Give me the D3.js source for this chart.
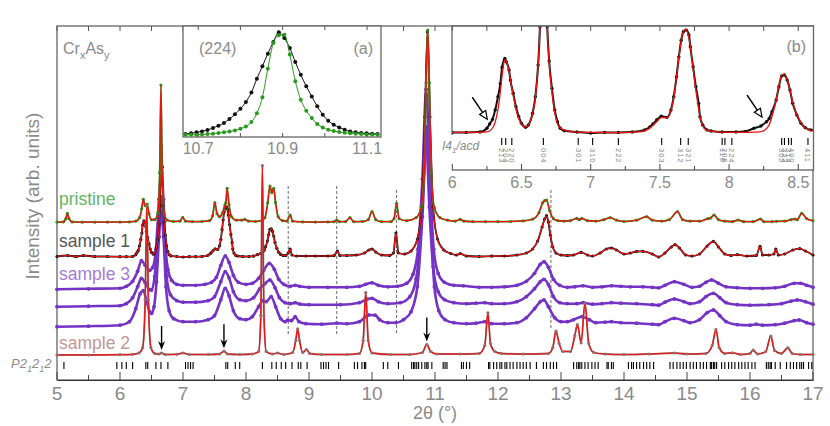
<!DOCTYPE html>
<html>
<head>
<meta charset="utf-8">
<script src="https://cdn.jsdelivr.net/npm/d3@7"></script>
<style>
  body { margin: 0; background: #fff; }
  svg { display: block; font-family: "Liberation Sans", Arial, sans-serif; }
  .lbl { fill: #8a8a8a; }
</style>
</head>
<body>
<svg width="830" height="426"></svg>
<script>
// ---- data (2theta in degrees, intensity in arb. units above each baseline) ----
var pristine = [[5.00,0.5],[5.10,0.8],[5.14,4],[5.165,9.4],[5.19,4],[5.24,0.8],[5.4,0.5],[5.6,0.5],[5.8,0.6],[6.0,0.6],[6.15,0.8],[6.25,1.5],[6.31,5],[6.345,14],[6.37,23.4],[6.40,17],[6.43,18.7],[6.46,9],[6.50,3],[6.55,3],[6.60,10],[6.63,50],[6.65,137.7],[6.67,50],[6.70,10],[6.75,2.5],[6.85,1.2],[6.95,1.5],[6.995,5.3],[7.04,1.5],[7.15,1],[7.3,1.2],[7.42,2],[7.47,7],[7.505,20],[7.54,9],[7.58,6],[7.63,10],[7.665,17.7],[7.68,20],[7.70,34.4],[7.73,18],[7.77,6],[7.85,2.5],[7.93,2.5],[7.98,3.4],[8.04,1.5],[8.15,1.2],[8.25,2],[8.30,5],[8.345,20],[8.38,36.7],[8.41,30],[8.44,34.4],[8.47,20],[8.51,6],[8.58,2],[8.65,1.5],[8.70,7.7],[8.74,1.5],[8.9,0.8],[9.1,0.6],[9.3,0.8],[9.40,1],[9.44,2.7],[9.48,1],[9.58,1],[9.65,5],[9.71,1],[9.85,1.2],[9.94,3],[10.0,11],[10.06,3],[10.15,1],[10.3,1],[10.35,4],[10.39,19.4],[10.43,4],[10.55,2],[10.70,5],[10.78,15],[10.83,50],[10.86,140],[10.885,192.7],[10.91,140],[10.94,50],[10.99,15],[11.08,5],[11.2,2.5],[11.32,1.5],[11.40,3.4],[11.46,1.5],[11.6,1],[11.8,1],[12.0,1],[12.2,1.2],[12.4,1.8],[12.55,3.5],[12.65,10],[12.71,20],[12.74,22],[12.77,22.7],[12.82,12],[12.88,4],[12.95,2],[13.05,1.5],[13.15,2],[13.25,4.4],[13.29,3],[13.33,4.4],[13.42,2],[13.55,1.5],[13.68,3],[13.78,5],[13.88,2.5],[14.0,1.2],[14.2,2.5],[14.36,6],[14.45,2.5],[14.6,1.5],[14.72,3],[14.85,11],[14.93,3],[15.05,1.5],[15.2,1.5],[15.33,4],[15.37,4.5],[15.43,7.7],[15.5,3],[15.6,1.5],[15.72,1],[15.81,2.7],[15.9,1],[16.05,1],[16.17,3.7],[16.22,1],[16.35,1],[16.42,1.4],[16.55,1.5],[16.65,3],[16.71,3.7],[16.75,3],[16.82,9.4],[16.9,4],[17.0,2]];

var sample1 = [[5.0,0.5],[5.17,1.5],[5.3,0.5],[5.42,1.5],[5.6,0.5],[5.8,0.5],[6.0,0.3],[6.1,0.3],[6.2,0.5],[6.25,2.3],[6.27,4.4],[6.29,6.6],[6.31,11.2],[6.33,17.6],[6.347,24],[6.36,32],[6.38,36.2],[6.39,34.6],[6.41,30.6],[6.42,25.7],[6.44,19.3],[6.46,12.8],[6.48,8],[6.50,4.7],[6.53,2.8],[6.55,3.9],[6.58,9.6],[6.60,17.6],[6.62,33],[6.633,51.6],[6.645,90],[6.658,112],[6.672,90],[6.686,51.6],[6.70,35],[6.72,21.7],[6.74,11.2],[6.76,5.5],[6.78,2.3],[6.81,1.1],[6.9,0.5],[7.0,0],[7.1,0.3],[7.2,0.3],[7.3,0.5],[7.39,1.5],[7.43,3.1],[7.45,4.4],[7.477,6.3],[7.51,8.2],[7.55,7.6],[7.58,11.2],[7.60,17.6],[7.62,27.3],[7.637,37],[7.654,45.1],[7.67,49.2],[7.69,50],[7.71,47.6],[7.72,41.9],[7.74,32.2],[7.76,22.5],[7.78,14.4],[7.79,7.9],[7.81,3.9],[7.84,1.5],[7.87,1],[7.95,0.5],[8.05,0.5],[8.12,0.8],[8.18,2.3],[8.23,3.4],[8.27,5.5],[8.29,7.1],[8.31,10.3],[8.34,16],[8.36,22.5],[8.38,27.7],[8.40,28.2],[8.42,25.7],[8.44,20.9],[8.46,14.4],[8.49,8.7],[8.52,4.7],[8.55,2.6],[8.59,1.5],[8.63,1.5],[8.67,4],[8.70,8],[8.73,2],[8.8,1],[8.95,1],[9.1,1],[9.3,1],[9.40,1.5],[9.45,6],[9.49,1.5],[9.6,1.5],[9.75,2],[9.88,4],[9.95,7],[10.0,8],[10.06,5],[10.15,2],[10.28,1.5],[10.34,4],[10.38,24],[10.42,4],[10.52,3],[10.62,6],[10.72,18],[10.79,50],[10.84,140],[10.88,225],[10.92,140],[10.97,50],[11.04,18],[11.14,7],[11.25,3.5],[11.34,2],[11.40,3.3],[11.5,1],[11.7,0.5],[11.9,0.8],[12.1,1],[12.3,2],[12.45,4],[12.55,8],[12.63,16],[12.70,30],[12.74,38],[12.77,41.3],[12.80,35],[12.83,22],[12.87,10],[12.92,4],[13.0,2],[13.1,1.5],[13.2,2],[13.32,4.6],[13.42,2],[13.5,1],[13.62,4],[13.72,8],[13.8,9],[13.88,7],[14.0,3],[14.1,4],[14.2,5.5],[14.3,5.7],[14.45,3],[14.55,0],[14.65,4],[14.75,10],[14.81,12.3],[14.88,9],[14.98,2],[15.08,1],[15.2,3],[15.32,11],[15.42,15.6],[15.5,10],[15.6,3],[15.7,1.5],[15.8,2.3],[15.95,1],[16.1,1.5],[16.16,10.6],[16.2,2],[16.3,2],[16.38,3],[16.41,8],[16.45,2],[16.55,3],[16.68,7],[16.79,8.3],[16.88,6],[17.0,2]];

// refined fit of sample 1 shown in inset (b)
var sample1Calc = [[6.0,0.3],[6.1,0.3],[6.2,0.3],[6.25,0.5],[6.28,1.5],[6.30,3.5],[6.32,8],[6.34,16],[6.355,25],[6.37,33],[6.38,35.5],[6.395,34],[6.41,30],[6.43,22],[6.45,15],[6.47,9],[6.49,5.5],[6.52,3],[6.54,3.2],[6.57,7],[6.60,17],[6.62,33],[6.633,52],[6.645,90],[6.658,112],[6.672,90],[6.686,52],[6.70,34],[6.72,20],[6.74,10],[6.76,4.5],[6.79,2],[6.85,0.8],[7.0,0.3],[7.2,0.2],[7.35,0.5],[7.42,2],[7.47,5],[7.51,7.5],[7.55,7.5],[7.58,11],[7.60,17],[7.62,27],[7.64,38],[7.66,47],[7.685,50.5],[7.71,46],[7.73,37],[7.75,26],[7.77,16],[7.79,8],[7.81,3.5],[7.85,1],[8.0,0.3],[8.15,0.3],[8.22,0.5],[8.26,1.5],[8.29,4],[8.31,8],[8.34,16],[8.36,23],[8.38,28],[8.40,28.6],[8.42,26],[8.44,21],[8.46,15],[8.49,9],[8.52,5],[8.55,2.5],[8.59,1.2],[8.62,1]];

var sample3a = [[5.0,0],[5.5,0.5],[6.0,1],[6.1,3],[6.2,8],[6.28,18],[6.34,28.6],[6.40,24],[6.47,19],[6.52,22],[6.57,40],[6.62,90],[6.655,116],[6.69,90],[6.72,45],[6.76,20],[6.82,9],[6.9,5],[7.0,4],[7.2,4],[7.35,5],[7.45,7],[7.53,12],[7.6,24],[7.67,33.3],[7.73,27],[7.80,14],[7.88,7],[8.0,5],[8.1,6],[8.2,11],[8.28,19],[8.37,26],[8.45,20],[8.52,10],[8.6,5],[8.7,3],[8.78,4],[8.85,3],[9.0,2],[9.3,2],[9.6,2],[9.8,3],[9.9,5],[10.0,6.5],[10.1,4],[10.25,2.5],[10.4,3],[10.55,6],[10.65,15],[10.73,40],[10.8,110],[10.86,200],[10.92,110],[10.98,40],[11.05,16],[11.15,7],[11.3,4],[11.45,3.5],[11.7,2],[11.9,2],[12.1,2.5],[12.3,4],[12.45,8],[12.58,16],[12.67,25],[12.73,27.6],[12.8,22],[12.88,10],[12.98,4],[13.1,2],[13.22,2.5],[13.35,3.5],[13.5,2],[13.65,2.5],[13.8,3.5],[13.95,3],[14.1,2.5],[14.3,2.5],[14.45,2],[14.55,1.5],[14.65,4],[14.8,7.6],[14.95,5],[15.08,2],[15.2,3],[15.3,7],[15.39,9.3],[15.5,6],[15.62,2.5],[15.8,1.5],[16.0,1],[16.2,1],[16.4,1.5],[16.55,3],[16.7,6],[16.8,6],[16.9,4],[17.0,2]];

var sample3b = [[5.0,0],[5.5,0.5],[6.0,1],[6.1,3],[6.2,9],[6.28,20],[6.34,28.4],[6.40,24],[6.47,17],[6.5,16.7],[6.55,30],[6.6,70],[6.655,110],[6.7,70],[6.74,30],[6.8,12],[6.9,6],[7.0,4.5],[7.2,4.5],[7.4,6],[7.5,10],[7.6,25],[7.67,35],[7.73,29],[7.8,15],[7.9,7],[8.0,6],[8.12,9],[8.22,18],[8.3,23],[8.38,26.7],[8.46,19],[8.53,9],[8.62,4],[8.7,3],[8.78,4],[8.86,2.5],[9.0,2],[9.5,2],[9.8,4],[9.92,7.5],[10.0,8.4],[10.1,5],[10.25,3],[10.45,4],[10.6,10],[10.7,28],[10.78,80],[10.85,180],[10.91,100],[10.97,40],[11.05,15],[11.15,7],[11.3,4],[11.5,3],[11.65,3.5],[11.79,4],[11.9,3],[12.1,3],[12.3,5],[12.45,10],[12.58,18],[12.67,25],[12.73,27.4],[12.8,22],[12.88,10],[12.98,4],[13.1,3],[13.25,3],[13.35,4],[13.5,2.5],[13.65,3],[13.8,4],[13.95,3.5],[14.2,3],[14.45,2],[14.55,1.5],[14.65,4.5],[14.8,7.7],[14.95,5],[15.05,3],[15.2,5],[15.3,10],[15.42,13.4],[15.52,9],[15.62,4],[15.8,2],[16.0,1.5],[16.3,2],[16.5,3],[16.65,5.5],[16.75,6.7],[16.88,5],[17.0,2.5]];

var sample3c = [[5.0,0],[5.5,0.5],[6.0,1.5],[6.15,5],[6.25,18],[6.32,33],[6.37,36],[6.42,26],[6.47,15],[6.5,13.4],[6.54,20],[6.58,45],[6.62,90],[6.655,115],[6.69,90],[6.73,40],[6.78,16],[6.85,8],[7.0,5],[7.2,5],[7.4,7],[7.5,11],[7.6,27],[7.67,38.4],[7.73,31],[7.8,16],[7.9,8],[8.0,7],[8.1,10],[8.2,20],[8.27,26],[8.32,25],[8.40,30],[8.47,20],[8.55,8],[8.62,5],[8.66,6.5],[8.72,6],[8.78,10],[8.84,5],[8.95,3],[9.2,2.5],[9.44,3.5],[9.6,3],[9.8,5],[9.9,10],[9.95,11.7],[10.05,11.5],[10.12,7],[10.25,4],[10.38,4],[10.5,7],[10.62,15],[10.72,40],[10.8,110],[10.87,190],[10.93,110],[10.99,40],[11.06,16],[11.16,7],[11.3,4],[11.5,3],[11.65,3.5],[11.79,5],[11.9,3],[12.1,3],[12.3,4],[12.45,9],[12.58,18],[12.67,25],[12.73,26.7],[12.8,20],[12.9,9],[13.0,5],[13.1,5],[13.2,7],[13.33,10],[13.45,7],[13.55,4],[13.7,4.5],[13.8,5],[13.95,4],[14.2,3.5],[14.45,2.5],[14.55,2],[14.65,5],[14.8,8.4],[14.95,6],[15.05,4],[15.2,7],[15.32,14],[15.42,16.7],[15.52,11],[15.62,5],[15.8,2],[16.0,1.5],[16.1,2.5],[16.2,1.5],[16.4,2],[16.55,3.5],[16.7,6],[16.78,6.7],[16.9,4],[17.0,2.5]];

var sample2 = [[5.0,0.5],[5.5,0.5],[6.0,0.8],[6.2,1.2],[6.3,2.5],[6.36,8],[6.40,56],[6.425,150],[6.45,56],[6.49,8],[6.55,2],[6.62,1.5],[6.66,2.5],[6.72,1],[6.9,1.2],[7.0,2.5],[7.1,1],[7.4,1],[7.58,1.5],[7.65,4.3],[7.71,1.5],[7.9,1],[8.1,1.5],[8.2,4],[8.235,40],[8.26,190],[8.285,40],[8.32,4],[8.42,1.5],[8.5,2.5],[8.6,1],[8.74,3],[8.79,15],[8.82,26.7],[8.85,15],[8.9,3],[8.96,6],[9.01,2],[9.2,1],[9.6,1],[9.8,2],[9.86,15],[9.90,63],[9.94,15],[10.0,2.5],[10.3,1],[10.6,1],[10.8,3],[10.87,11],[10.93,4],[11.03,1.5],[11.4,1.5],[11.7,2],[11.79,10],[11.84,42.7],[11.88,12],[11.95,4],[12.05,2],[12.4,1.5],[12.8,2],[12.87,8],[12.92,24.3],[12.97,12],[13.03,4],[13.15,4],[13.22,20],[13.26,31],[13.32,12.7],[13.38,52.7],[13.44,12],[13.52,3],[13.7,1.5],[14.0,1],[14.4,1.5],[14.8,2.5],[15.0,1.5],[15.3,2],[15.4,10],[15.46,26],[15.51,8],[15.6,2],[15.72,2.7],[15.85,1],[16.0,2],[16.05,5.3],[16.12,1.5],[16.25,4],[16.33,19.3],[16.39,5],[16.5,2],[16.6,7.7],[16.67,2],[16.8,1],[17.0,1]];

var seriesLabels = ['pristine', 'sample 1', 'sample 3', '', '', 'sample 2'];
var seriesOffsets = [157.3, 123, 90.7, 73.3, 53.3, 24.5];

// P2(1)2(1)2 reflection positions (2theta)
var mainRefl = [5.11,5.95,6.03,6.10,6.20,6.41,6.44,6.57,6.65,6.76,7.04,7.08,7.12,7.16,7.68,7.71,7.83,7.90,8.26,8.41,8.48,8.56,8.63,8.73,8.83,8.87,8.97,9.19,9.23,9.27,9.31,9.47,9.72,9.77,9.84,9.88,9.90,10.18,10.25,10.42,10.63,10.66,10.68,10.71,10.74,10.79,10.84,10.87,10.89,10.95,11.13,11.16,11.19,11.42,11.45,11.50,11.55,11.85,11.87,11.93,11.98,12.03,12.06,12.11,12.14,12.19,12.24,12.30,12.35,12.40,12.45,12.51,12.61,12.72,12.77,12.83,12.88,12.93,13.20,13.25,13.28,13.30,13.33,13.38,13.43,13.49,13.54,13.59,13.73,13.75,13.80,13.83,14.07,14.12,14.15,14.20,14.25,14.31,14.36,14.41,14.47,14.73,14.78,14.84,14.89,14.94,14.99,15.05,15.10,15.15,15.21,15.26,15.31,15.37,15.39,15.42,15.44,15.47,15.55,15.60,15.66,15.71,15.76,15.82,15.87,15.92,15.97,16.03,16.08,16.26,16.29,16.32,16.34,16.40,16.48,16.58,16.64,16.69,16.74,16.79,16.82,16.85,16.93,16.98];

var guideX = [8.67, 9.44, 10.39, 12.84];
var guideTop = [194, 194, 190, 190];
var guideBottom = [45, 45, 45, 50];
var arrowX = [6.66, 7.65, 10.87];

// inset (a): (224) reflection, normalised
var insetAX = [10.670,10.683,10.696,10.709,10.722,10.735,10.748,10.761,10.774,10.787,10.800,10.813,10.826,10.839,10.852,10.865,10.878,10.891,10.904,10.917,10.930,10.943,10.956,10.969,10.982,10.995,11.008,11.021,11.034,11.047,11.060,11.073,11.086,11.099,11.112,11.125];
var insetASample1 = [0.006,0.013,0.023,0.032,0.045,0.065,0.088,0.114,0.153,0.198,0.253,0.318,0.412,0.545,0.666,0.789,0.903,0.997,0.942,0.844,0.708,0.584,0.471,0.373,0.276,0.195,0.136,0.097,0.071,0.049,0.032,0.023,0.016,0.013,0.010,0.006];
var insetAPristine = [0,0,0,0.003,0.006,0.010,0.016,0.023,0.032,0.042,0.058,0.081,0.123,0.208,0.364,0.643,0.893,0.968,0.974,0.78,0.52,0.34,0.234,0.162,0.104,0.071,0.049,0.036,0.026,0.019,0.013,0.010,0.006,0.003,0.003,0];

// inset (b): I4(1)/acd reflections
var insetRefl = [6.357,6.386,6.43,6.658,6.91,7.014,7.2,7.513,7.65,7.705,7.95,7.97,8.02,8.38,8.40,8.43,8.45,8.57];
var insetHkl = ['213','204','220','004','301','310','222','303','312','321','116','206','224','305','323','314','400','411'];
var insetArrowX = [6.26, 8.245];

var svg = d3.select('svg');

var x = d3.scaleLinear().domain([5, 17]).range([57, 813]);
var y = d3.scaleLinear().domain([0, 354]).range([380, 26]);

var colors = ['#2a9a1e', '#111111', '#7433c4', '#7433c4', '#7433c4', '#9a6868'];
var labelColors = ['#62b562', '#555555', '#a57ad8', '', '', '#bf9797'];
var allSeries = [pristine, sample1, sample3a, sample3b, sample3c, sample2];

// frame
var frame = svg.append('g');
frame.append('rect')
    .attr('x', x(5)).attr('y', y(354))
    .attr('width', x(17) - x(5)).attr('height', y(0) - y(354))
    .attr('fill', 'none').attr('stroke', '#666').attr('stroke-width', 1.3);

// bottom axis, ticks inward
var xAxis = d3.axisBottom(x).tickValues(d3.range(5, 17.01, 0.5)).tickSize(0).tickFormat('');
frame.append('g').attr('transform', 'translate(0,380)').call(xAxis).select('.domain').attr('stroke', '#333');
frame.selectAll('.tickB')
    .data(d3.range(5, 17.01, 0.5))
    .enter().append('line')
    .attr('x1', function(d){ return x(d); }).attr('x2', function(d){ return x(d); })
    .attr('y1', 380).attr('y2', function(d){ return d % 1 === 0 ? 372 : 375; })
    .attr('stroke', '#444').attr('stroke-width', 1);
frame.selectAll('.tickT')
    .data(d3.range(5, 17.01, 0.5))
    .enter().append('line')
    .attr('x1', function(d){ return x(d); }).attr('x2', function(d){ return x(d); })
    .attr('y1', 26).attr('y2', 31)
    .attr('stroke', '#555').attr('stroke-width', 1);
frame.selectAll('.tickLabel')
    .data(d3.range(5, 18))
    .enter().append('text')
    .attr('class', 'lbl')
    .attr('x', function(d){ return x(d); }).attr('y', 400)
    .attr('text-anchor', 'middle').attr('font-size', 19)
    .text(function(d){ return d; });

svg.append('text').attr('class', 'lbl')
    .attr('x', (x(5) + x(17)) / 2).attr('y', 419)
    .attr('text-anchor', 'middle').attr('font-size', 18)
    .text('2\u03b8 (\u00b0)');

svg.append('text').attr('class', 'lbl')
    .attr('transform', 'translate(39,196) rotate(-90)')
    .attr('text-anchor', 'middle').attr('font-size', 19)
    .text('Intensity (arb. units)');

var crAs = svg.append('text').attr('class', 'lbl').attr('x', 63).attr('y', 54).attr('font-size', 16);
crAs.append('tspan').text('Cr');
crAs.append('tspan').attr('dy', 5).attr('font-size', 11).text('x');
crAs.append('tspan').attr('dy', -5).text('As');
crAs.append('tspan').attr('dy', 5).attr('font-size', 11).text('y');

// reflection markers
svg.append('g').selectAll('line')
    .data(mainRefl)
    .enter().append('line')
    .attr('x1', function(d){ return x(d); }).attr('x2', function(d){ return x(d); })
    .attr('y1', 362).attr('y2', 369)
    .attr('stroke', '#000').attr('stroke-width', 1.1);

var pLbl = svg.append('text').attr('class', 'lbl').attr('x', 11).attr('y', 368)
    .attr('font-size', 13).attr('font-style', 'italic');
pLbl.append('tspan').text('P2');
pLbl.append('tspan').attr('dy', 4).attr('font-size', 9).text('1');
pLbl.append('tspan').attr('dy', -4).text('2');
pLbl.append('tspan').attr('dy', 4).attr('font-size', 9).text('1');
pLbl.append('tspan').attr('dy', -4).text('2');

// dashed guides
svg.append('g').selectAll('line')
    .data(guideX)
    .enter().append('line')
    .attr('x1', function(d){ return x(d); }).attr('x2', function(d){ return x(d); })
    .attr('y1', function(d, i){ return y(guideTop[i]); })
    .attr('y2', function(d, i){ return y(guideBottom[i]); })
    .attr('stroke', '#444').attr('stroke-width', 0.8).attr('stroke-dasharray', '3,2');

function drawPattern(g, data, off, color, lw, r, withCalc, dotsOnTop) {
    var line = d3.line()
        .x(function(d){ return x(d[0]); })
        .y(function(d){ return y(d[1] + off); })
        .curve(d3.curveMonotoneX);
    g.append('path').datum(data)
        .attr('d', line).attr('fill', 'none')
        .attr('stroke', color).attr('stroke-width', lw).attr('stroke-linejoin', 'round');
    var dots = function() {
        g.append('g').selectAll('circle')
            .data(data)
            .enter().append('circle')
            .attr('cx', function(d){ return x(d[0]); })
            .attr('cy', function(d){ return y(d[1] + off); })
            .attr('r', r).attr('fill', color);
    };
    if (!dotsOnTop) dots();
    if (withCalc) {
        g.append('path').datum(data)
            .attr('d', line).attr('fill', 'none')
            .attr('stroke', '#ee1111').attr('stroke-width', 1.2);
    }
    if (dotsOnTop) dots();
}

var plotG = svg.append('g');
var order = [2, 3, 4, 1, 0, 5];
order.forEach(function(i){
    var purple = i >= 2 && i <= 4;
    drawPattern(plotG, allSeries[i], seriesOffsets[i], colors[i],
        purple ? 2.6 : 1.8, purple ? 1.9 : 1.6, !purple, i === 5);
});

var labelDy = [18, 10, 9, 0, 0, 6.5];
seriesLabels.forEach(function(t, i){
    if (!t) return;
    svg.append('text')
        .attr('x', 59).attr('y', y(seriesOffsets[i]) - labelDy[i])
        .attr('font-size', 17.5).attr('fill', labelColors[i])
        .text(t);
});

// arrows pointing at weak sample 2 features
function heightAt(data, t) {
    var best = data[0];
    data.forEach(function(d){ if (Math.abs(d[0] - t) < Math.abs(best[0] - t)) best = d; });
    return best[1];
}
arrowX.forEach(function(t){
    var tip = y(heightAt(sample2, t) + seriesOffsets[5]) - 3;
    var ax = x(t);
    svg.append('line').attr('x1', ax).attr('x2', ax).attr('y1', tip - 24).attr('y2', tip - 5)
        .attr('stroke', '#000').attr('stroke-width', 1.4);
    svg.append('path')
        .attr('d', 'M' + (ax - 3.5) + ',' + (tip - 9) + 'L' + ax + ',' + tip + 'L' + (ax + 3.5) + ',' + (tip - 9) + 'L' + ax + ',' + (tip - 6) + 'Z')
        .attr('fill', '#000');
});

// ---- inset (a) ----
var xa = d3.scaleLinear().domain([10.664, 11.133]).range([183, 381]);
var ya = d3.scaleLinear().domain([0, 1]).range([134.7, 32]);
var insetA = svg.append('g');
insetA.append('rect').attr('x', 183).attr('y', 26).attr('width', 198).attr('height', 111)
    .attr('fill', '#fff').attr('stroke', '#666').attr('stroke-width', 1.3);
insetA.selectAll('.ta')
    .data(d3.range(10.7, 11.11, 0.1))
    .enter().append('g')
    .each(function(d){
        var g = d3.select(this);
        g.append('line').attr('x1', xa(d)).attr('x2', xa(d)).attr('y1', 26).attr('y2', 30).attr('stroke', '#555');
        g.append('line').attr('x1', xa(d)).attr('x2', xa(d)).attr('y1', 137).attr('y2', 133).attr('stroke', '#555');
    });
insetA.selectAll('.la')
    .data([10.7, 10.9, 11.1])
    .enter().append('text').attr('class', 'lbl')
    .attr('x', function(d){ return xa(d); }).attr('y', 154)
    .attr('text-anchor', 'middle').attr('font-size', 16)
    .text(function(d){ return d.toFixed(1); });
insetA.append('text').attr('class', 'lbl').attr('x', 199).attr('y', 54).attr('font-size', 16).text('(224)');
insetA.append('text').attr('class', 'lbl').attr('x', 373).attr('y', 54).attr('font-size', 16)
    .attr('text-anchor', 'end').text('(a)');

[[insetASample1, '#111'], [insetAPristine, '#2a9a1e']].forEach(function(s){
    var pts = insetAX.map(function(t, i){ return [t, s[0][i]]; });
    insetA.append('path').datum(pts)
        .attr('d', d3.line().x(function(d){ return xa(d[0]); }).y(function(d){ return ya(d[1]); }).curve(d3.curveMonotoneX))
        .attr('fill', 'none').attr('stroke', s[1]).attr('stroke-width', 1);
    insetA.append('g').selectAll('circle').data(pts).enter().append('circle')
        .attr('cx', function(d){ return xa(d[0]); }).attr('cy', function(d){ return ya(d[1]); })
        .attr('r', 2).attr('fill', s[1]);
});

// ---- inset (b): sample 1 zoom ----
var xb = d3.scaleLinear().domain([6, 8.61]).range([452.3, 813.5]);
var yb = d3.scaleLinear().domain([0, 52]).range([133, 26]);
var insetB = svg.append('g');
insetB.append('rect').attr('x', 452).attr('y', 26).attr('width', 361.5).attr('height', 144)
    .attr('fill', '#fff');
svg.append('clipPath').attr('id', 'clipB').append('rect')
    .attr('x', 452).attr('y', 26).attr('width', 361.5).attr('height', 112);
var bData = insetB.append('g').attr('clip-path', 'url(#clipB)');
var bLine = d3.line().x(function(d){ return xb(d[0]); }).y(function(d){ return yb(d[1]); }).curve(d3.curveMonotoneX);
var s1Part = sample1.filter(function(d){ return d[0] <= 8.7; });
bData.append('path').datum(s1Part).attr('d', bLine).attr('fill', 'none')
    .attr('stroke', '#111').attr('stroke-width', 2);
bData.append('g').selectAll('circle').data(s1Part).enter().append('circle')
    .attr('cx', function(d){ return xb(d[0]); }).attr('cy', function(d){ return yb(d[1]); })
    .attr('r', 1.7).attr('fill', '#111');
bData.append('path').datum(sample1Calc).attr('d', bLine).attr('fill', 'none')
    .attr('stroke', '#ee1111').attr('stroke-width', 1.3);

insetB.append('path')
    .attr('d', 'M452,135V26H813.5V170')
    .attr('fill', 'none').attr('stroke', '#666').attr('stroke-width', 1.3);
insetB.append('line').attr('x1', 452).attr('x2', 813.5).attr('y1', 170).attr('y2', 170)
    .attr('stroke', '#333').attr('stroke-width', 1.2);
insetB.selectAll('.tb')
    .data(d3.range(6, 8.61, 0.25))
    .enter().append('g')
    .each(function(d){
        var g = d3.select(this);
        var major = Math.abs(d * 2 - Math.round(d * 2)) < 1e-6;
        g.append('line').attr('x1', xb(d)).attr('x2', xb(d)).attr('y1', 170).attr('y2', major ? 164 : 166).attr('stroke', '#444');
        g.append('line').attr('x1', xb(d)).attr('x2', xb(d)).attr('y1', 26).attr('y2', 31).attr('stroke', '#555');
    });
insetB.selectAll('.lb')
    .data([6, 6.5, 7, 7.5, 8, 8.5])
    .enter().append('text').attr('class', 'lbl')
    .attr('x', function(d){ return xb(d); }).attr('y', 188)
    .attr('text-anchor', 'middle').attr('font-size', 16)
    .text(function(d){ return d; });
insetB.append('text').attr('class', 'lbl').attr('x', 806).attr('y', 52).attr('font-size', 16)
    .attr('text-anchor', 'end').text('(b)');

insetB.append('g').selectAll('line').data(insetRefl).enter().append('line')
    .attr('x1', function(d){ return xb(d); }).attr('x2', function(d){ return xb(d); })
    .attr('y1', 138).attr('y2', 145).attr('stroke', '#000').attr('stroke-width', 1.1);
insetB.append('g').selectAll('text').data(insetRefl).enter().append('text')
    .attr('transform', function(d){ return 'translate(' + (xb(d) - 2.6) + ',148) rotate(90)'; })
    .attr('font-size', 7.5).attr('fill', '#888').attr('letter-spacing', 1)
    .text(function(d, i){ return insetHkl[i]; });
var iLbl = insetB.append('text').attr('class', 'lbl').attr('x', 442).attr('y', 150)
    .attr('font-size', 12).attr('font-style', 'italic');
iLbl.append('tspan').text('I4');
iLbl.append('tspan').attr('dy', 3).attr('font-size', 8).text('1');
iLbl.append('tspan').attr('dy', -3).text('/acd');

insetArrowX.forEach(function(t){
    var tx = xb(t) - 1, ty = yb(heightAt(sample1, t)) - 9;
    var sx = tx - 15, sy = ty - 22;
    var ang = Math.atan2(ty - sy, tx - sx);
    var hl = 9, hw = 0.42;
    var p1 = [tx - hl * Math.cos(ang - hw), ty - hl * Math.sin(ang - hw)];
    var p2 = [tx - hl * Math.cos(ang + hw), ty - hl * Math.sin(ang + hw)];
    insetB.append('line').attr('x1', sx).attr('y1', sy)
        .attr('x2', tx - 6 * Math.cos(ang)).attr('y2', ty - 6 * Math.sin(ang))
        .attr('stroke', '#000').attr('stroke-width', 1.4);
    insetB.append('path')
        .attr('d', 'M' + p1 + 'L' + tx + ',' + ty + 'L' + p2 + 'Z')
        .attr('fill', '#fff').attr('stroke', '#000').attr('stroke-width', 1.2);
});
</script>
</body>
</html>
